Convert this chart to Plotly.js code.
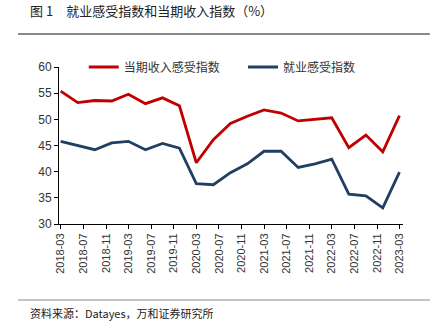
<!DOCTYPE html>
<html><head><meta charset="utf-8">
<script src="https://cdn.plot.ly/plotly-3.0.1.min.js"></script>
<style>html,body{margin:0;padding:0;background:#fff;}#chart{width:443px;height:331px;}</style>
</head><body><div id="chart"></div>
<script>
const dates = ['2018-03','2018-06','2018-09','2018-12','2019-03','2019-06','2019-09','2019-12','2020-03','2020-06','2020-09','2020-12','2021-03','2021-06','2021-09','2021-12','2022-03','2022-06','2022-09','2022-12','2023-03'];
const incomeIndex = [55.4,53.2,53.6,53.5,54.8,53.0,54.1,52.6,41.7,46.1,49.2,50.6,51.8,51.2,49.7,50.0,50.3,44.6,47.0,43.8,50.7];
const employmentIndex = [45.8,45.0,44.2,45.5,45.8,44.2,45.4,44.5,37.7,37.5,39.8,41.5,43.9,43.9,40.8,41.5,42.4,35.7,35.4,33.1,39.9];
const seriesNames = ['当期收入感受指数','就业感受指数'];
const titleText = '图 1　就业感受指数和当期收入指数（%）';
const sourceText = '资料来源：Datayes，万和证券研究所';

const cjk = '"Noto Sans CJK SC", sans-serif';
const latin = '"Liberation Sans", Arial, sans-serif';
const traces = [
  {x: dates, y: incomeIndex, name: seriesNames[0], type: 'scatter', mode: 'lines', line: {color: '#C00000', width: 2.8}, legend: 'legend'},
  {x: dates, y: employmentIndex, name: seriesNames[1], type: 'scatter', mode: 'lines', line: {color: '#203F63', width: 2.8}, legend: 'legend2'}
];
const legendBase = {orientation: 'h', y: 1.0, xanchor: 'left', yanchor: 'middle', bgcolor: 'rgba(0,0,0,0)',
                    font: {family: cjk, size: 12, color: '#333'}};
const layout = {
  width: 443, height: 331,
  margin: {l: 59, r: 40, t: 67, b: 107},
  paper_bgcolor: '#fff', plot_bgcolor: '#fff',
  showlegend: true,
  legend: Object.assign({}, legendBase, {x: 0.072}),
  legend2: Object.assign({}, legendBase, {x: 0.535}),
  xaxis: {type: 'date', range: ['2018-02-20', '2023-03-20'], tickmode: 'linear', tick0: '2018-03-01', dtick: 'M4',
          tickformat: '%Y-%m', tickangle: -90, ticks: 'outside', ticklen: 4, tickcolor: '#000', tickwidth: 1,
          showline: true, linecolor: '#000', linewidth: 1, showgrid: false, zeroline: false,
          tickfont: {family: latin, size: 11, color: '#333'}},
  yaxis: {range: [30, 60], dtick: 5, ticks: 'outside', ticklen: 4, tickcolor: '#000', tickwidth: 1,
          showline: true, linecolor: '#000', linewidth: 1, showgrid: false, zeroline: false,
          tickfont: {family: latin, size: 12, color: '#333'}},
  shapes: [
    {type: 'line', xref: 'paper', yref: 'paper', x0: -0.119, x1: 1.078, y0: 1.21, y1: 1.21, line: {color: '#888', width: 2}},
    {type: 'line', xref: 'paper', yref: 'paper', x0: -0.119, x1: 1.078, y0: -0.484, y1: -0.484, line: {color: '#888', width: 1}}
  ],
  annotations: [
    {text: titleText, xref: 'paper', yref: 'paper', x: -0.09, y: 1.36, xanchor: 'left', yanchor: 'middle', showarrow: false,
     font: {family: cjk, size: 13, color: '#222'}},
    {text: sourceText, xref: 'paper', yref: 'paper', x: -0.09, y: -0.57, xanchor: 'left', yanchor: 'middle', showarrow: false,
     font: {family: cjk, size: 11, color: '#222'}}
  ]
};
Plotly.newPlot('chart', traces, layout, {staticPlot: true, displayModeBar: false});
</script></body></html>
